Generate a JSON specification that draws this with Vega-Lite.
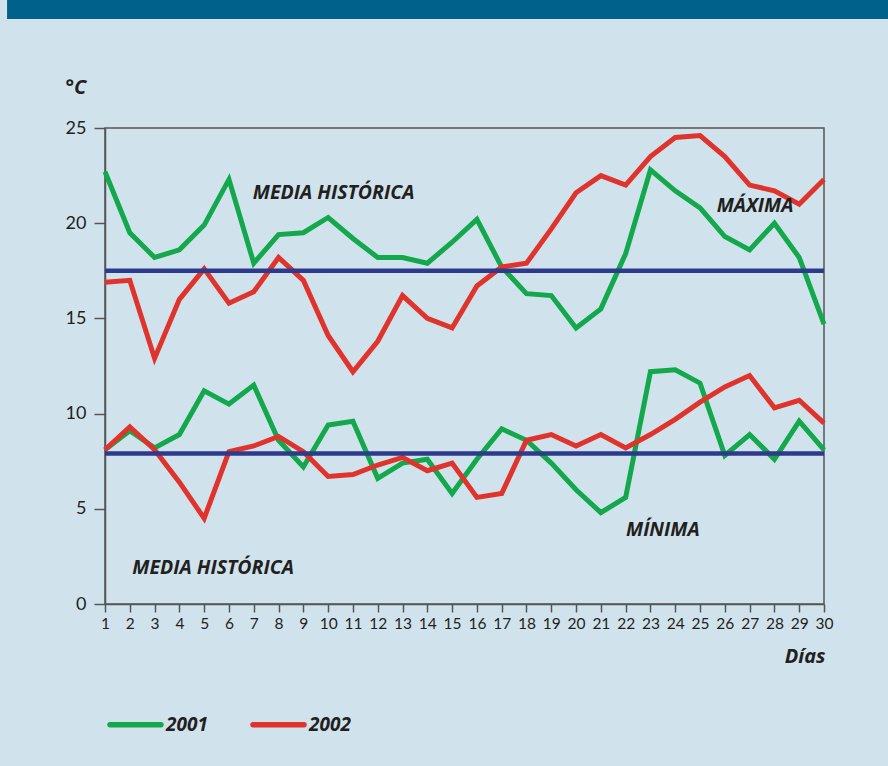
{
  "$schema": "https://vega.github.io/schema/vega-lite/v6.json",
  "width": 719,
  "height": 476,
  "autosize": {"type": "none"},
  "padding": {"left": 105, "top": 128, "right": 64, "bottom": 162},
  "background": "#d0e3ec",
  "config": {
    "view": {"stroke": "#555555", "strokeWidth": 1.5},
    "font": "Lato",
    "axis": {"grid": false, "domainColor": "#555555", "domainWidth": 1.5, "tickColor": "#555555", "tickWidth": 1.5, "labelColor": "#231f20", "labelFont": "Lato", "titleColor": "#231f20", "titleFont": "Open Sans"}
  },
  "datasets": {
    "banner": [{"name": "banner"}],
    "temps": [
      {"day": 1, "year": "2001", "kind": "max", "temp": 22.7},
      {"day": 2, "year": "2001", "kind": "max", "temp": 19.5},
      {"day": 3, "year": "2001", "kind": "max", "temp": 18.2},
      {"day": 4, "year": "2001", "kind": "max", "temp": 18.6},
      {"day": 5, "year": "2001", "kind": "max", "temp": 19.9},
      {"day": 6, "year": "2001", "kind": "max", "temp": 22.3},
      {"day": 7, "year": "2001", "kind": "max", "temp": 17.9},
      {"day": 8, "year": "2001", "kind": "max", "temp": 19.4},
      {"day": 9, "year": "2001", "kind": "max", "temp": 19.5},
      {"day": 10, "year": "2001", "kind": "max", "temp": 20.3},
      {"day": 11, "year": "2001", "kind": "max", "temp": 19.2},
      {"day": 12, "year": "2001", "kind": "max", "temp": 18.2},
      {"day": 13, "year": "2001", "kind": "max", "temp": 18.2},
      {"day": 14, "year": "2001", "kind": "max", "temp": 17.9},
      {"day": 15, "year": "2001", "kind": "max", "temp": 19.0},
      {"day": 16, "year": "2001", "kind": "max", "temp": 20.2},
      {"day": 17, "year": "2001", "kind": "max", "temp": 17.7},
      {"day": 18, "year": "2001", "kind": "max", "temp": 16.3},
      {"day": 19, "year": "2001", "kind": "max", "temp": 16.2},
      {"day": 20, "year": "2001", "kind": "max", "temp": 14.5},
      {"day": 21, "year": "2001", "kind": "max", "temp": 15.5},
      {"day": 22, "year": "2001", "kind": "max", "temp": 18.4},
      {"day": 23, "year": "2001", "kind": "max", "temp": 22.8},
      {"day": 24, "year": "2001", "kind": "max", "temp": 21.7},
      {"day": 25, "year": "2001", "kind": "max", "temp": 20.8},
      {"day": 26, "year": "2001", "kind": "max", "temp": 19.3},
      {"day": 27, "year": "2001", "kind": "max", "temp": 18.6},
      {"day": 28, "year": "2001", "kind": "max", "temp": 20.0},
      {"day": 29, "year": "2001", "kind": "max", "temp": 18.2},
      {"day": 30, "year": "2001", "kind": "max", "temp": 14.7},
      {"day": 1, "year": "2001", "kind": "min", "temp": 8.1},
      {"day": 2, "year": "2001", "kind": "min", "temp": 9.1},
      {"day": 3, "year": "2001", "kind": "min", "temp": 8.2},
      {"day": 4, "year": "2001", "kind": "min", "temp": 8.9},
      {"day": 5, "year": "2001", "kind": "min", "temp": 11.2},
      {"day": 6, "year": "2001", "kind": "min", "temp": 10.5},
      {"day": 7, "year": "2001", "kind": "min", "temp": 11.5},
      {"day": 8, "year": "2001", "kind": "min", "temp": 8.6},
      {"day": 9, "year": "2001", "kind": "min", "temp": 7.2},
      {"day": 10, "year": "2001", "kind": "min", "temp": 9.4},
      {"day": 11, "year": "2001", "kind": "min", "temp": 9.6},
      {"day": 12, "year": "2001", "kind": "min", "temp": 6.6},
      {"day": 13, "year": "2001", "kind": "min", "temp": 7.4},
      {"day": 14, "year": "2001", "kind": "min", "temp": 7.6},
      {"day": 15, "year": "2001", "kind": "min", "temp": 5.8},
      {"day": 16, "year": "2001", "kind": "min", "temp": 7.6},
      {"day": 17, "year": "2001", "kind": "min", "temp": 9.2},
      {"day": 18, "year": "2001", "kind": "min", "temp": 8.6},
      {"day": 19, "year": "2001", "kind": "min", "temp": 7.4},
      {"day": 20, "year": "2001", "kind": "min", "temp": 6.0},
      {"day": 21, "year": "2001", "kind": "min", "temp": 4.8},
      {"day": 22, "year": "2001", "kind": "min", "temp": 5.6},
      {"day": 23, "year": "2001", "kind": "min", "temp": 12.2},
      {"day": 24, "year": "2001", "kind": "min", "temp": 12.3},
      {"day": 25, "year": "2001", "kind": "min", "temp": 11.6},
      {"day": 26, "year": "2001", "kind": "min", "temp": 7.8},
      {"day": 27, "year": "2001", "kind": "min", "temp": 8.9},
      {"day": 28, "year": "2001", "kind": "min", "temp": 7.6},
      {"day": 29, "year": "2001", "kind": "min", "temp": 9.6},
      {"day": 30, "year": "2001", "kind": "min", "temp": 8.1},
      {"day": 1, "year": "2002", "kind": "max", "temp": 16.9},
      {"day": 2, "year": "2002", "kind": "max", "temp": 17.0},
      {"day": 3, "year": "2002", "kind": "max", "temp": 12.9},
      {"day": 4, "year": "2002", "kind": "max", "temp": 16.0},
      {"day": 5, "year": "2002", "kind": "max", "temp": 17.6},
      {"day": 6, "year": "2002", "kind": "max", "temp": 15.8},
      {"day": 7, "year": "2002", "kind": "max", "temp": 16.4},
      {"day": 8, "year": "2002", "kind": "max", "temp": 18.2},
      {"day": 9, "year": "2002", "kind": "max", "temp": 17.0},
      {"day": 10, "year": "2002", "kind": "max", "temp": 14.1},
      {"day": 11, "year": "2002", "kind": "max", "temp": 12.2},
      {"day": 12, "year": "2002", "kind": "max", "temp": 13.8},
      {"day": 13, "year": "2002", "kind": "max", "temp": 16.2},
      {"day": 14, "year": "2002", "kind": "max", "temp": 15.0},
      {"day": 15, "year": "2002", "kind": "max", "temp": 14.5},
      {"day": 16, "year": "2002", "kind": "max", "temp": 16.7},
      {"day": 17, "year": "2002", "kind": "max", "temp": 17.7},
      {"day": 18, "year": "2002", "kind": "max", "temp": 17.9},
      {"day": 19, "year": "2002", "kind": "max", "temp": 19.7},
      {"day": 20, "year": "2002", "kind": "max", "temp": 21.6},
      {"day": 21, "year": "2002", "kind": "max", "temp": 22.5},
      {"day": 22, "year": "2002", "kind": "max", "temp": 22.0},
      {"day": 23, "year": "2002", "kind": "max", "temp": 23.5},
      {"day": 24, "year": "2002", "kind": "max", "temp": 24.5},
      {"day": 25, "year": "2002", "kind": "max", "temp": 24.6},
      {"day": 26, "year": "2002", "kind": "max", "temp": 23.5},
      {"day": 27, "year": "2002", "kind": "max", "temp": 22.0},
      {"day": 28, "year": "2002", "kind": "max", "temp": 21.7},
      {"day": 29, "year": "2002", "kind": "max", "temp": 21.0},
      {"day": 30, "year": "2002", "kind": "max", "temp": 22.3},
      {"day": 1, "year": "2002", "kind": "min", "temp": 8.1},
      {"day": 2, "year": "2002", "kind": "min", "temp": 9.3},
      {"day": 3, "year": "2002", "kind": "min", "temp": 8.1},
      {"day": 4, "year": "2002", "kind": "min", "temp": 6.4},
      {"day": 5, "year": "2002", "kind": "min", "temp": 4.5},
      {"day": 6, "year": "2002", "kind": "min", "temp": 8.0},
      {"day": 7, "year": "2002", "kind": "min", "temp": 8.3},
      {"day": 8, "year": "2002", "kind": "min", "temp": 8.8},
      {"day": 9, "year": "2002", "kind": "min", "temp": 8.0},
      {"day": 10, "year": "2002", "kind": "min", "temp": 6.7},
      {"day": 11, "year": "2002", "kind": "min", "temp": 6.8},
      {"day": 12, "year": "2002", "kind": "min", "temp": 7.3},
      {"day": 13, "year": "2002", "kind": "min", "temp": 7.7},
      {"day": 14, "year": "2002", "kind": "min", "temp": 7.0},
      {"day": 15, "year": "2002", "kind": "min", "temp": 7.4},
      {"day": 16, "year": "2002", "kind": "min", "temp": 5.6},
      {"day": 17, "year": "2002", "kind": "min", "temp": 5.8},
      {"day": 18, "year": "2002", "kind": "min", "temp": 8.6},
      {"day": 19, "year": "2002", "kind": "min", "temp": 8.9},
      {"day": 20, "year": "2002", "kind": "min", "temp": 8.3},
      {"day": 21, "year": "2002", "kind": "min", "temp": 8.9},
      {"day": 22, "year": "2002", "kind": "min", "temp": 8.2},
      {"day": 23, "year": "2002", "kind": "min", "temp": 8.9},
      {"day": 24, "year": "2002", "kind": "min", "temp": 9.7},
      {"day": 25, "year": "2002", "kind": "min", "temp": 10.6},
      {"day": 26, "year": "2002", "kind": "min", "temp": 11.4},
      {"day": 27, "year": "2002", "kind": "min", "temp": 12.0},
      {"day": 28, "year": "2002", "kind": "min", "temp": 10.3},
      {"day": 29, "year": "2002", "kind": "min", "temp": 10.7},
      {"day": 30, "year": "2002", "kind": "min", "temp": 9.5}
    ],
    "historic": [
      {"kind": "max", "temp": 17.5},
      {"kind": "min", "temp": 7.9}
    ],
    "labels": [
      {"text": "MEDIA HISTÓRICA", "day": 10.22, "temp": 21.6},
      {"text": "MÁXIMA", "day": 27.22, "temp": 20.9},
      {"text": "MEDIA HISTÓRICA", "day": 5.36, "temp": 1.9},
      {"text": "MÍNIMA", "day": 23.5, "temp": 3.9}
    ]
  },
  "layer": [
    {
      "data": {"name": "temps"},
      "mark": {"type": "line", "strokeWidth": 5, "strokeJoin": "miter"},
      "encoding": {
        "x": {
          "field": "day", "type": "quantitative",
          "scale": {"domain": [1, 30], "nice": false, "zero": false},
          "axis": {
            "values": [1,2,3,4,5,6,7,8,9,10,11,12,13,14,15,16,17,18,19,20,21,22,23,24,25,26,27,28,29,30],
            "tickCount": 30,
            "tickSize": 8, "labelPadding": 4, "labelFontSize": 15.5, "labelFlush": false, "labelOverlap": false,
            "title": "Días", "titleFontSize": 20, "titleFontWeight": "bold", "titleFontStyle": "italic",
            "titleX": 720, "titleY": 58, "titleAlign": "right", "titleBaseline": "alphabetic", "titleAnchor": null
          }
        },
        "y": {
          "field": "temp", "type": "quantitative",
          "scale": {"domain": [0, 25], "nice": false},
          "axis": {
            "values": [0, 5, 10, 15, 20, 25],
            "tickSize": 11, "labelPadding": 8, "labelFontSize": 18,
            "title": "°C", "titleAngle": 0, "titleFontSize": 20, "titleFontWeight": "bold", "titleFontStyle": "italic",
            "titleX": -40, "titleY": -35, "titleAlign": "left", "titleBaseline": "alphabetic", "titleAnchor": null
          }
        },
        "color": {
          "field": "year", "type": "nominal",
          "scale": {"domain": ["2001", "2002"], "range": ["#12a84b", "#e0332c"]},
          "legend": {
            "title": null, "orient": "none", "legendX": 2, "legendY": 568, "direction": "horizontal",
            "symbolType": "stroke", "symbolSize": 2601, "symbolStrokeWidth": 5.5,
            "labelFont": "Open Sans", "labelFontStyle": "italic", "labelFontWeight": "bold", "labelFontSize": 19,
            "labelColor": "#231f20", "labelOffset": 2, "columnPadding": 34,
            "encode": {"symbols": {"update": {"strokeCap": {"value": "round"}}}}
          }
        },
        "detail": {"field": "kind"},
        "order": {"field": "day"}
      }
    },
    {
      "data": {"name": "historic"},
      "mark": {"type": "rule", "color": "#2e3a8c", "strokeWidth": 4.5},
      "encoding": {"y": {"field": "temp", "type": "quantitative"}}
    },
    {
      "data": {"name": "labels"},
      "mark": {"type": "text", "font": "Open Sans", "fontStyle": "italic", "fontWeight": "bold", "fontSize": 19.5, "color": "#231f20", "baseline": "middle", "align": "center"},
      "encoding": {
        "x": {"field": "day", "type": "quantitative"},
        "y": {"field": "temp", "type": "quantitative"},
        "text": {"field": "text"}
      }
    },
    {
      "data": {"name": "banner"},
      "mark": {"type": "rect", "color": "#00628a", "clip": false},
      "encoding": {
        "x": {"datum": -2.95, "type": "quantitative"},
        "x2": {"datum": 34},
        "y": {"datum": 30.72, "type": "quantitative"},
        "y2": {"datum": 34}
      }
    }
  ]
}
